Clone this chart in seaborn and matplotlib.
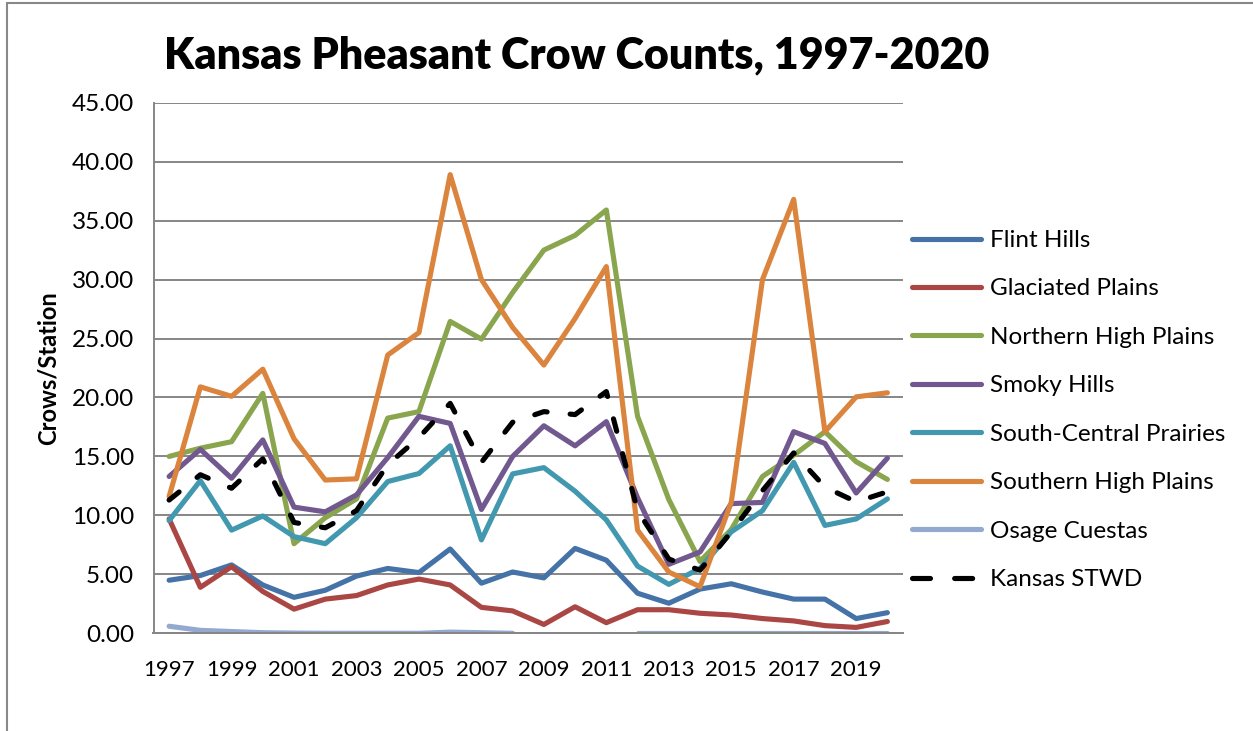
import numpy as np
import pandas as pd
import matplotlib
matplotlib.use("Agg")
import matplotlib.pyplot as plt
from matplotlib.lines import Line2D
import seaborn as sns

# Survey years
years = list(range(1997, 2021))

# Crows per station by region
flint_hills = [4.5, 4.9, 5.8, 4.1, 3.05, 3.65, 4.85, 5.5, 5.15, 7.15, 4.25, 5.2,
               4.7, 7.2, 6.2, 3.4, 2.55, 3.75, 4.2, 3.5, 2.9, 2.9, 1.25, 1.75]
glaciated_plains = [9.7, 3.9, 5.65, 3.55, 2.05, 2.9, 3.2, 4.1, 4.6, 4.1, 2.2, 1.9,
                    0.75, 2.25, 0.9, 2.0, 2.0, 1.7, 1.55, 1.25, 1.05, 0.65, 0.5, 1.0]
northern_high_plains = [15.0, 15.7, 16.25, 20.35, 7.6, 9.8, 11.4, 18.25, 18.8, 26.45, 24.95, 28.9,
                        32.5, 33.75, 35.9, 18.4, 11.35, 6.1, 8.8, 13.3, 15.1, 17.1, 14.55, 13.05]
smoky_hills = [13.3, 15.6, 13.15, 16.4, 10.7, 10.3, 11.74, 14.9, 18.4, 17.8, 10.5, 15.0,
               17.6, 15.9, 17.95, 11.5, 5.85, 6.9, 11.0, 11.1, 17.1, 16.1, 11.9, 14.85]
south_central_prairies = [9.56, 12.95, 8.75, 9.95, 8.2, 7.6, 9.8, 12.87, 13.55, 15.9, 7.92, 13.52,
                          14.05, 12.05, 9.62, 5.7, 4.15, 5.5, 8.6, 10.4, 14.5, 9.15, 9.7, 11.4]
southern_high_plains = [11.6, 20.9, 20.1, 22.4, 16.5, 13.0, 13.1, 23.6, 25.5, 38.9, 30.0, 25.95,
                        22.75, 26.7, 31.1, 8.75, 5.2, 3.95, 11.1, 30.0, 36.8, 17.1, 20.05, 20.4]
osage_cuestas = [0.6, 0.25, 0.15, 0.05, 0.02, 0.0, 0.0, 0.0, 0.0, 0.1, 0.05, 0.0,
                 np.nan, np.nan, np.nan, 0.0, 0.0, 0.0, 0.0, 0.0, 0.0, 0.0, 0.0, 0.0]
kansas_statewide = [11.3, 13.45, 12.3, 14.8, 9.4, 8.95, 10.4, 14.3, 16.6, 19.5, 14.5, 17.9,
                    18.8, 18.55, 20.5, 10.4, 6.3, 5.35, 8.6, 12.1, 15.3, 12.4, 11.15, 12.0]

series_names = ["Flint Hills", "Glaciated Plains", "Northern High Plains", "Smoky Hills",
                "South-Central Prairies", "Southern High Plains", "Osage Cuestas", "Kansas STWD"]
series_values = [flint_hills, glaciated_plains, northern_high_plains, smoky_hills,
                 south_central_prairies, southern_high_plains, osage_cuestas, kansas_statewide]
colors = ["#4572A7", "#AA4643", "#89A54E", "#71588F", "#4198AF", "#DB843D", "#93A9CF", "#000000"]

title = "Kansas Pheasant Crow Counts, 1997-2020"
y_label = "Crows/Station"
y_ticks = [0, 5, 10, 15, 20, 25, 30, 35, 40, 45]
x_ticks = list(range(1997, 2020, 2))

# Long table; missing survey years split a series into separate segments
rows = []
for name, vals in zip(series_names, series_values):
    seg = 0
    prev_nan = False
    for yr, v in zip(years, vals):
        if np.isnan(v):
            prev_nan = True
            continue
        if prev_nan:
            seg += 1
            prev_nan = False
        rows.append({"Year": yr, "Value": v, "Series": name, "Segment": seg})
df = pd.DataFrame(rows)

sns.set_style("white")
plt.rcParams["font.family"] = ["Lato", "DejaVu Sans"]
for key in ["text.color", "axes.labelcolor", "xtick.color", "ytick.color"]:
    plt.rcParams[key] = "black"

W, H = 1253, 731
fig = plt.figure(figsize=(W / 100, H / 100), dpi=100)
ax = fig.add_axes([153.5 / W, 1 - 633.3 / H, (903 - 153.5) / W, (633.3 - 102.7) / H])

palette = dict(zip(series_names, colors))
dash_pat = (2.5, 4.5)
legend_dash_pat = (3.5, 4.7)
dashes = {n: "" for n in series_names}
dashes["Kansas STWD"] = dash_pat
lw = 3.7

sns.lineplot(data=df, x="Year", y="Value", hue="Series", style="Series",
             units="Segment", estimator=None, palette=palette, dashes=dashes,
             hue_order=series_names, style_order=series_names,
             linewidth=lw, legend=False, ax=ax, sort=False,
             solid_capstyle="round", dash_capstyle="round", solid_joinstyle="round",
             dash_joinstyle="round")

ax.set_xlim(1996.5, 2020.5)
ax.set_ylim(0, 45)
ax.set_yticks(y_ticks)
ax.set_yticklabels([f"{t:.2f}" for t in y_ticks])
ax.set_xticks(x_ticks)
ax.set_xticklabels([str(t) for t in x_ticks])
ax.tick_params(axis="y", labelsize=17.5, length=0, pad=14)
ax.tick_params(axis="x", labelsize=16, length=0, pad=19)
ax.set_xlabel("")
ax.set_ylabel(y_label, fontsize=17, fontweight="bold", labelpad=9)
ax.yaxis.grid(True, color="#868686", linewidth=1.4)
ax.set_axisbelow(True)
for s in ["top", "right"]:
    ax.spines[s].set_visible(False)
for s in ["left", "bottom"]:
    ax.spines[s].set_color("#868686")
    ax.spines[s].set_linewidth(1.4)

fig.text(576.5 / W, 1 - 55 / H, title, ha="center", va="center",
         fontsize=31, fontweight="heavy")

handles = []
for n, c in zip(series_names, colors):
    if n == "Kansas STWD":
        handles.append(Line2D([], [], color=c, lw=lw, dashes=legend_dash_pat,
                              dash_capstyle="round"))
    else:
        handles.append(Line2D([], [], color=c, lw=lw, solid_capstyle="round"))
ax.legend(handles, series_names, loc="upper left", bbox_to_anchor=(912 / W, 1 - 230 / H),
          bbox_transform=fig.transFigure, frameon=False, fontsize=17.5,
          handlelength=2.85, handletextpad=0.35, labelspacing=1.13,
          borderpad=0, borderaxespad=0)

# Chart frame
fig.add_artist(Line2D([7 / W, 7 / W], [0, 1 - 3 / H], color="#888888", lw=1.5,
                      transform=fig.transFigure))
fig.add_artist(Line2D([7 / W, 1], [1 - 3 / H, 1 - 3 / H], color="#888888", lw=1.5,
                      transform=fig.transFigure))

fig.savefig("out.png", dpi=100)
